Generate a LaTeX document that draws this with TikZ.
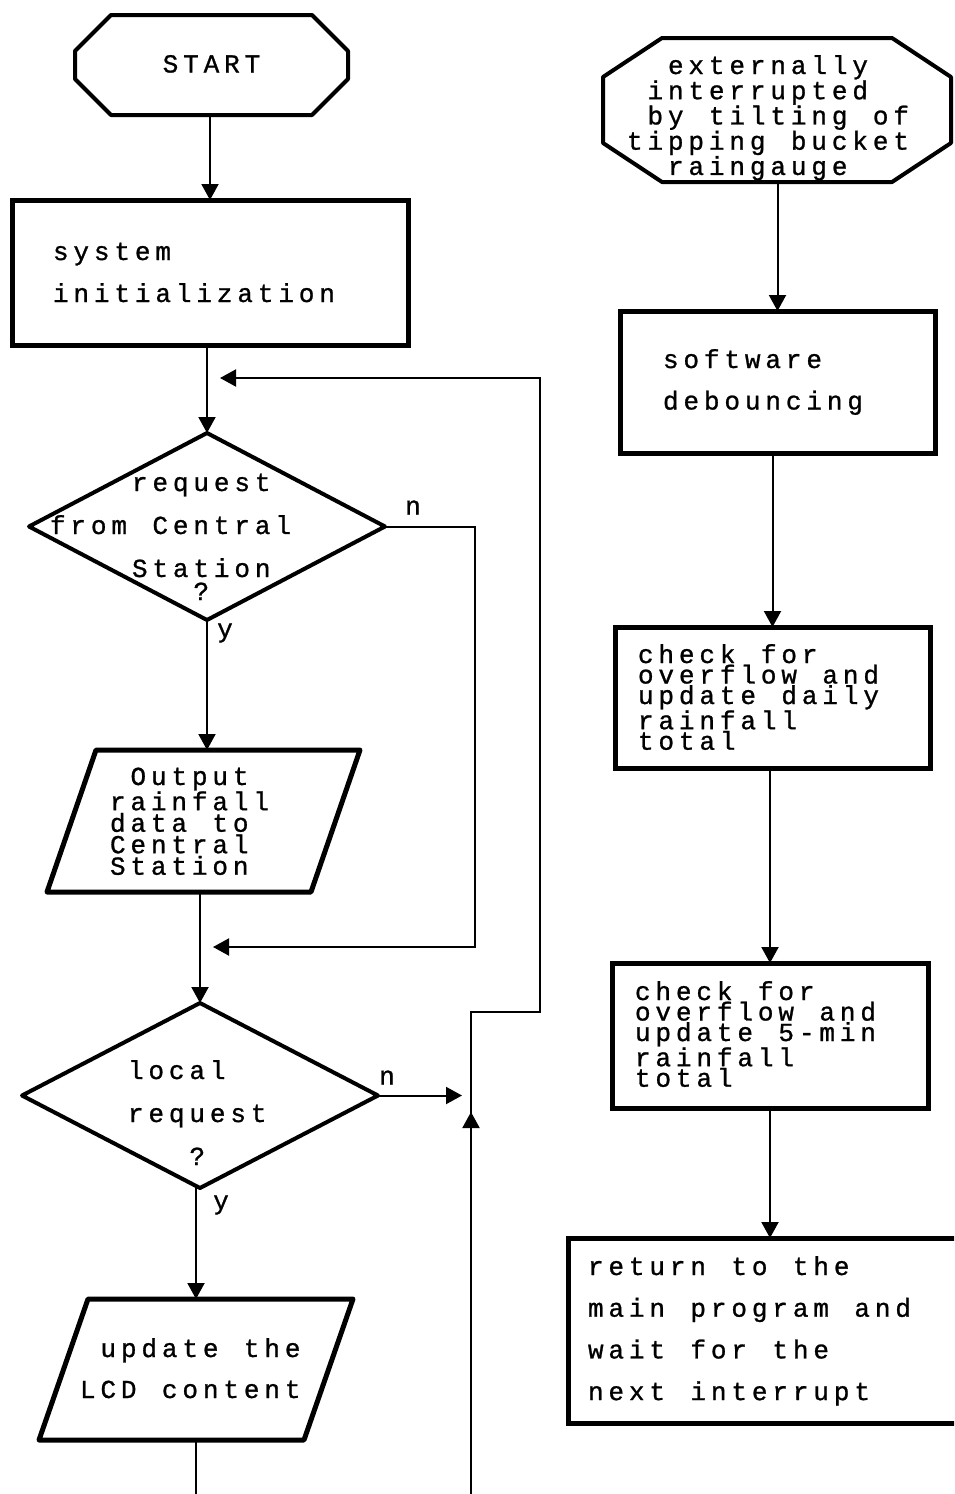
\documentclass[tikz,border=0pt]{standalone}
\usepackage{fontspec}
\usetikzlibrary{arrows.meta}
\newfontfamily\dotfont[LetterSpace=18.8,FakeBold=1]{Liberation Mono}
\newlength\cellw
\setlength\cellw{20.5pt}
\newcommand\pad[1]{\hspace*{#1\cellw}}
\newcommand\gap{\hspace{25.4pt}}
% outlines drawn round the plain nodes
\newcommand\termline[3]{%
  \draw[line width=4pt,line join=round]
    ([xshift=#2pt]#1.north west) -- ([xshift=-#2pt]#1.north east)
    -- ([yshift=-#3pt]#1.north east) -- ([yshift=#3pt]#1.south east)
    -- ([xshift=-#2pt]#1.south east) -- ([xshift=#2pt]#1.south west)
    -- ([yshift=#3pt]#1.south west) -- ([yshift=-#3pt]#1.north west) -- cycle;}
\newcommand\ioline[2]{%
  \draw[line width=5pt,line join=round]
    ([xshift=#2pt]#1.north west) -- (#1.north east)
    -- ([xshift=-#2pt]#1.south east) -- (#1.south west) -- cycle;}
\newcommand\decline[1]{%
  \draw[line width=4pt,line join=round]
    (#1.north) -- (#1.east) -- (#1.south) -- (#1.west) -- cycle;}
\tikzset{
  txt/.style={font={\dotfont\fontsize{26}{#1}\selectfont}},
  geom/.style n args={6}{minimum width=#1pt, minimum height=#2pt,
    inner xsep=#3pt, text width=#4pt, text height=#5pt, text depth=#6pt},
}

\begin{document}
\begin{tikzpicture}[x=1pt,y=-1pt,
    every node/.style={inner sep=0pt,outer sep=0pt,txt=42},
    box/.style={draw,line width=5pt,align=left},
    plain/.style={align=left},
    flow/.style={line width=2pt},
    arr/.style={flow,-{Triangle[width=17pt,length=16pt]}},
    lbl/.style={txt=26}]
  \useasboundingbox (0,0) rectangle (954,1494);
  \clip (0,0) rectangle (954,1494);

  % main program
  \node[plain,align=center,geom={273}{100}{20}{233}{57.5}{42.5}] (start) at (211.5,65) {START};
  \node[box,geom={396}{145}{41}{314}{60}{85}] (init) at (210,272.5) {system\\initialization};
  \node[plain,txt=43,geom={356}{187}{21}{314}{58}{129}] (cs) at (207,526.5)
    {\pad{4}request\\from\gap Central\\\pad{4}Station\\[-20pt]\pad{7}?};
  \node[plain,txt=21.5,geom={313}{142}{63}{187}{35}{107}] (out) at (203.5,821)
    {\pad{1}Output\\rainfall\\data\gap to\\Central\\Station};
  \node[plain,txt=43,geom={356}{185}{106}{144}{76}{109}] (loc) at (200,1095.5)
    {local\\request\\\pad{3}?};
  \node[plain,txt=41,geom={314}{141}{41}{232}{58}{83}] (lcd) at (196,1369.5)
    {\pad{1}update\gap the\\LCD\gap content};
  \termline{start}{36}{36}
  \decline{cs}
  \ioline{out}{49}
  \decline{loc}
  \ioline{lcd}{49}

  % interrupt routine
  \node[plain,txt=21,geom={348}{144}{24}{300}{36}{108}] (intr) at (777,110)
    {\pad{2}externally\\\pad{1}interrupted\\\pad{1}by\gap tilting\gap of\\tipping\gap bucket\\\pad{2}raingauge};
  \node[box,txt=41.5,geom={315}{142}{43}{229}{57}{85}] (soft) at (777.5,382) {software\\debouncing};
  \node[box,txt=20.5,geom={315}{141}{23}{269}{36}{105}] (daily) at (772.5,697.5)
    {check\gap for\\overflow\gap and\\update\gap daily\\rainfall\\total};
  \node[box,txt=20.5,geom={316}{145}{23}{270}{37}{108}] (fivemin) at (770,1035.5)
    {check\gap for\\overflow\gap and\\update\gap 5-min\\rainfall\\total};
  \node[box,txt=41.7,geom={407}{185}{20}{367}{37}{148}] (ret) at (771.5,1330.5)
    {return\gap to\gap the\\main\gap program\gap and\\wait\gap for\gap the\\next\gap interrupt};
  \termline{intr}{59}{39}

  % free ends and bends of the connectors
  \coordinate (loopin) at (220,378);
  \coordinate (loopc1) at (540,378);
  \coordinate (loopc2) at (540,1012);
  \coordinate (loopc3) at (471,1012);
  \coordinate (loopbot) at (471,1500);
  \coordinate (uptip) at (471,1112);
  \coordinate (nocorner) at (475,947);
  \coordinate (joinin) at (213,947);
  \coordinate (locout) at (462,1095.5);
  \coordinate (lcdend) at (196,1500);

  \draw[arr] (init.north |- start.south) -- (init.north);
  \draw[arr] (cs.north |- init.south) -- (cs.north);
  \draw[arr] (cs.south) -- (cs.south |- out.north);
  \draw[arr] (cs.east) -| (nocorner) -- (joinin);
  \draw[arr] (loc.north |- out.south) -- (loc.north);
  \draw[arr] (lcd.north |- loc.south) -- (lcd.north);
  \draw[arr] (loc.east) -- (locout);
  \draw[flow] (lcd.south) -- (lcdend);
  \draw[arr] (loopbot) -- (uptip);
  \draw[arr] (loopbot) -- (loopc3) -- (loopc2) -- (loopc1) -- (loopin);

  \draw[arr] (soft.north |- intr.south) -- (soft.north);
  \draw[arr] (daily.north |- soft.south) -- (daily.north);
  \draw[arr] (fivemin.north |- daily.south) -- (fivemin.north);
  \draw[arr] (fivemin.south) -- (fivemin.south |- ret.north);

  \node[lbl] (csn) at ([xshift=28pt,yshift=19pt]cs.east) {n};
  \node[lbl] (csy) at ([xshift=18pt,yshift=-13pt]cs.south) {y};
  \node[lbl] (locn) at ([xshift=9pt,yshift=18pt]loc.east) {n};
  \node[lbl] (locy) at ([xshift=21pt,yshift=-17pt]loc.south) {y};
\end{tikzpicture}
\end{document}
